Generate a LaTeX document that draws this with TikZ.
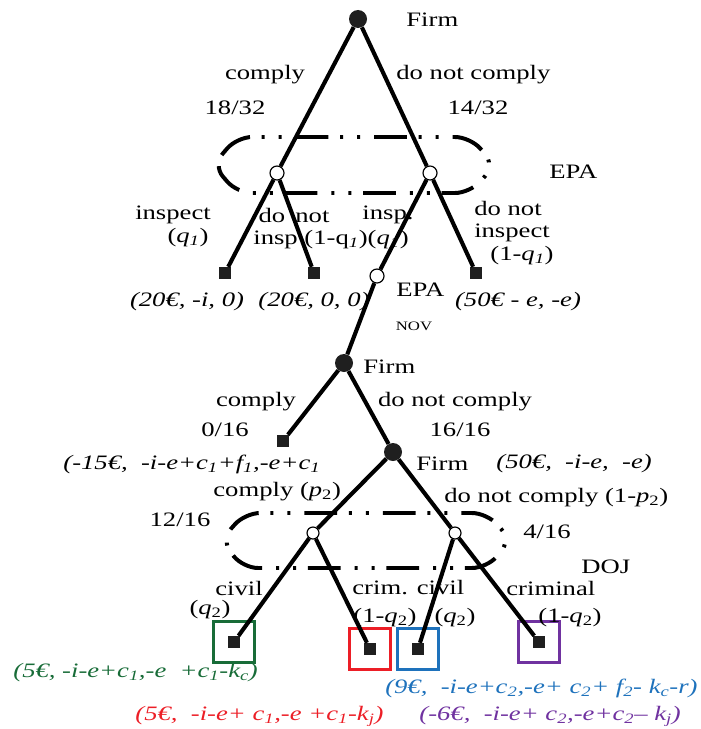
\documentclass[tikz,border=0pt]{standalone}
\usepackage{fontspec}
\setmainfont{Liberation Serif}[FakeStretch=1.3]
\usepackage{tikz}
\usetikzlibrary{positioning}

\definecolor{payGreen}{RGB}{24,108,56}
\definecolor{payRed}{RGB}{236,30,38}
\definecolor{payBlue}{RGB}{30,114,188}
\definecolor{payPurple}{RGB}{112,50,160}
\newcommand{\sbs}[1]{\textsubscript{#1}}

\begin{document}
\begin{tikzpicture}[
    x=0.03cm,
    y=-0.03cm,
    font=\fontsize{17.5}{20}\selectfont,
    decision/.style={
        circle,
        fill=black!88,
        minimum size=0.54cm,
        inner sep=0pt
    },
    chance/.style={
        circle,
        draw,
        fill=white,
        line width=1pt,
        minimum size=0.42cm,
        inner sep=0pt
    },
    leaf/.style={
        rectangle,
        fill=black!88,
        minimum size=0.36cm,
        inner sep=0pt
    },
    outcome/.style={
        rectangle,
        draw=#1,
        line width=2.8pt,
        minimum size=1.22cm,
        inner sep=0pt
    },
    edge/.style={
        line width=3.5pt
    },
    infoset/.style={
        line width=3.4pt,
        rounded corners=0.45cm,
        dash pattern=on 28pt off 10pt on 2.5pt off 12pt on 2.5pt off 12pt
    },
    lbl/.style={
        inner sep=1pt
    },
    pay/.style={
        inner sep=1pt,
        font=\fontsize{17.5}{20}\selectfont\itshape,
        text=#1
    },
    pay/.default=black
]
\useasboundingbox (0,0) rectangle (700,729);

% =========================================================
% information sets
% =========================================================
\draw[infoset] (213,165) -- (237,137) -- (470,137) -- (495,165) -- (470,193) -- (237,193) -- cycle;
\draw[infoset] (221,540) -- (245,513) -- (487,513) -- (511,540) -- (487,568) -- (243,568) -- cycle;

% =========================================================
% first stage: Firm, EPA
% =========================================================
\node[decision] (firm1) at (358,19) {};
\node[lbl, anchor=west] (firm1txt) at (405,20) {Firm};

\node[chance] (epaC) at (277,173) {};
\node[chance] (epaN) at (430,173) {};
\node[lbl, anchor=west] (epatxt) at (548,172) {EPA};

\node[lbl] (cmp1) at (265,75) {comply};
\node[lbl] (cmp1p) at (235,108) {18/32};
\node[lbl, anchor=west] (ncmp1) at (395,75) {do not comply};
\node[lbl] (ncmp1p) at (478,108) {14/32};

\draw[edge] (firm1) -- (epaC);
\draw[edge] (firm1) -- (epaN);

% EPA leaves
\node[leaf] (l1) at (225,273) {};
\node[leaf] (l2) at (314,273) {};
\node[chance] (nov) at (377,276) {};
\node[leaf] (l3) at (476,273) {};

\draw[edge] (epaC) -- (l1);
\draw[edge] (epaC) -- (l2);
\draw[edge] (epaN) -- (nov);
\draw[edge] (epaN) -- (l3);

\node[lbl] (insp1) at (173,215) {inspect};
\node[lbl] (insp1p) at (188,238) {(\textit{q}\sbs{\textit{1}})};
\node[lbl] (noinsp1) at (294,215) {do\hspace{0.5em}not};
\node[lbl] (noinsp1p) at (331,240) {insp (1-q\sbs{\textit{1}})(\textit{q}\sbs{\textit{1}})};
\node[lbl] (insp2) at (388,215) {insp.};
\node[lbl] (noinsp2) at (508,208) {do not};
\node[lbl] (noinsp2b) at (512,233) {inspect};
\node[lbl] (noinsp2p) at (522,256) {(1-\textit{q}\sbs{\textit{1}})};

\node[pay] (pay1) at (187,302) {(20€, -i, 0)};
\node[pay] (pay2) at (314,302) {(20€, 0, 0)};
\node[pay] (pay3) at (518,302) {(50€ - e, -e)};

\node[lbl, anchor=west] (novtxt) at (395,290) {EPA};
\node[lbl, font=\fontsize{11}{12}\selectfont] (novsub) at (414,326) {NOV};

% =========================================================
% second stage: Firm after NOV
% =========================================================
\node[decision] (firm2) at (344,363) {};
\node[lbl, anchor=west] (firm2txt) at (362,367) {Firm};
\draw[edge] (nov) -- (firm2);

\node[leaf] (l4) at (283,441) {};
\node[decision] (firm3) at (393,452) {};
\draw[edge] (firm2) -- (l4);
\draw[edge] (firm2) -- (firm3);

\node[lbl] (cmp2) at (256,402) {comply};
\node[lbl] (cmp2p) at (225,430) {0/16};
\node[lbl] (ncmp2) at (455,402) {do not comply};
\node[lbl] (ncmp2p) at (460,430) {16/16};

\node[pay, anchor=west] (pay4) at (62,464) {(-15€, \ -i-e+c\sbs{1}+f\sbs{1},-e+c\sbs{1}};
\node[lbl, anchor=west] (firm3txt) at (415,464) {Firm};
\node[pay, anchor=west] (pay5) at (495,464) {(50€, \ -i-e, \ -e)};

% =========================================================
% third stage: DOJ
% =========================================================
\node[chance, minimum size=0.36cm] (dojC) at (313,533) {};
\node[chance, minimum size=0.36cm] (dojN) at (455,533) {};
\draw[edge] (firm3) -- (dojC);
\draw[edge] (firm3) -- (dojN);

\node[lbl, anchor=west] (cmp3) at (212,492) {comply (\textit{p}\sbs{2})};
\node[lbl, anchor=west] (ncmp3) at (443,498) {do not comply (1-\textit{p}\sbs{2})};
\node[lbl] (cmp3p) at (180,520) {12/16};
\node[lbl] (ncmp3p) at (547,532) {4/16};
\node[lbl, anchor=west] (dojtxt) at (580,567) {DOJ};

% outcome boxes
\node[leaf] (l5) at (234,642) {};
\node[leaf] (l6) at (370,649) {};
\node[leaf] (l7) at (418,649) {};
\node[leaf] (l8) at (539,642) {};
\node[outcome=payGreen] (o5) at (l5) {};
\node[outcome=payRed] (o6) at (l6) {};
\node[outcome=payBlue] (o7) at (l7) {};
\node[outcome=payPurple] (o8) at (l8) {};

\draw[edge] (dojC) -- (l5);
\draw[edge] (dojC) -- (l6);
\draw[edge] (dojN) -- (l7);
\draw[edge] (dojN) -- (l8);

\node[lbl, anchor=west] (civ1) at (214,588) {civil};
\node[lbl] (civ1p) at (210,610) {(\textit{q}\sbs{2})};
\node[lbl, anchor=west] (crim1) at (351,588) {crim. civil};
\node[lbl] (crim1p) at (385,618) {(1-\textit{q}\sbs{2})};
\node[lbl] (civ2p) at (455,618) {(\textit{q}\sbs{2})};
\node[lbl, anchor=west] (crim2) at (505,588) {criminal};
\node[lbl] (crim2p) at (570,618) {(1-\textit{q}\sbs{2})};

% payoffs DOJ
\node[pay=payGreen, anchor=west] (pay6) at (12,673) {(5€, -i-e+c\sbs{1},-e \ +c\sbs{1}-k\sbs{c})};
\node[pay=payBlue, anchor=east] (pay8) at (699,688) {(9€, \ -i-e+c\sbs{2},-e+ c\sbs{2}+ f\sbs{2}- k\sbs{c}-r)};
\node[pay=payRed, anchor=west] (pay7) at (134,716) {(5€, \ -i-e+ c\sbs{1},-e +c\sbs{1}-k\sbs{j})};
\node[pay=payPurple, anchor=west] (pay9) at (418,716) {(-6€, \ -i-e+ c\sbs{2},-e+c\sbs{2}-- k\sbs{j})};

\end{tikzpicture}
\end{document}
